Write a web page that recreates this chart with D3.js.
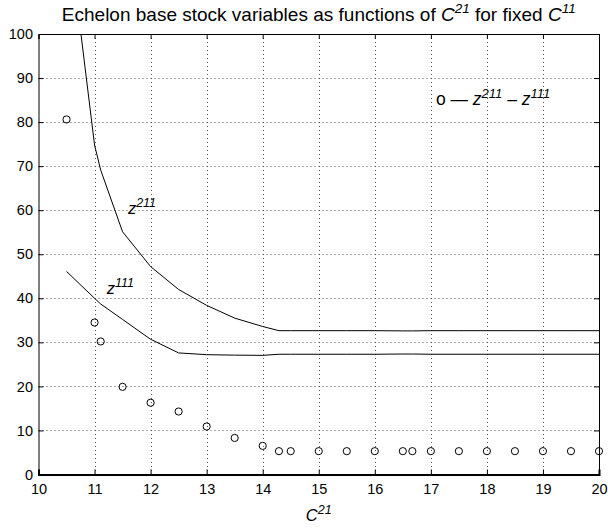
<!DOCTYPE html>
<html><head><meta charset="utf-8">
<script src="https://cdn.jsdelivr.net/npm/d3@7"></script>
<style>
body{margin:0;background:#fff;}
svg{display:block;font-family:"Liberation Sans",Arial,Helvetica,sans-serif;}
</style></head>
<body><svg id="c" width="608" height="529"></svg>
<script>
// ---- data ----
const c21 = [10.5, 11, 11.11, 11.5, 12, 12.5, 13, 13.5, 14, 14.29, 14.5, 15, 15.5, 16, 16.5, 16.67, 17, 17.5, 18, 18.5, 19, 19.5, 20];
const z211 = [126.7, 74.8, 69.1, 55.1, 47.2, 42.0, 38.4, 35.5, 33.6, 32.65, 32.65, 32.65, 32.65, 32.65, 32.6, 32.6, 32.65, 32.65, 32.65, 32.65, 32.65, 32.65, 32.65];
const z111 = [46.1, 40.0, 38.7, 35.2, 30.7, 27.6, 27.2, 27.1, 27.05, 27.3, 27.3, 27.3, 27.3, 27.3, 27.35, 27.35, 27.3, 27.3, 27.3, 27.3, 27.3, 27.3, 27.3];
const diff = [80.6, 34.5, 30.2, 19.9, 16.3, 14.3, 10.9, 8.3, 6.5, 5.3, 5.3, 5.3, 5.3, 5.3, 5.3, 5.3, 5.3, 5.3, 5.3, 5.3, 5.3, 5.3, 5.3];
const xTicks = [10, 11, 12, 13, 14, 15, 16, 17, 18, 19, 20];
const yTicks = [0, 10, 20, 30, 40, 50, 60, 70, 80, 90, 100];

const L = 38.5, R = 599, T = 34, B = 474.5;
const svg = d3.select("#c");
const x = d3.scaleLinear().domain([10, 20]).range([L, R]);
const y = d3.scaleLinear().domain([0, 100]).range([B, T]);

// grid
const grid = svg.append("g").attr("stroke", "#555").attr("stroke-width", 1).attr("stroke-dasharray", "1,3");
grid.selectAll("line.gx").data(xTicks.slice(1, -1)).join("line")
  .attr("x1", d => Math.round(x(d)) + 0.5).attr("x2", d => Math.round(x(d)) + 0.5).attr("y1", T).attr("y2", B);
grid.selectAll("line.gy").data(yTicks.slice(1, -1)).join("line")
  .attr("y1", d => Math.round(y(d)) + 0.5).attr("y2", d => Math.round(y(d)) + 0.5).attr("x1", L).attr("x2", R);

// axes
const tk = 5;
const axB = svg.append("g").attr("transform", `translate(0,${B})`)
  .call(d3.axisBottom(x).tickValues(xTicks).tickSize(-tk).tickPadding(9).tickFormat(d3.format("d")));
const axT = svg.append("g").attr("transform", `translate(0,${T})`)
  .call(d3.axisTop(x).tickValues(xTicks).tickSize(-tk).tickFormat(""));
const axL = svg.append("g").attr("transform", `translate(${L},0)`)
  .call(d3.axisLeft(y).tickValues(yTicks).tickSize(-tk).tickPadding(5.5).tickFormat(d3.format("d")));
const axR = svg.append("g").attr("transform", `translate(${R},0)`)
  .call(d3.axisRight(y).tickValues(yTicks).tickSize(-tk).tickFormat(""));
[axB, axT, axL, axR].forEach(a => {
  a.select(".domain").attr("stroke", "#000");
  a.selectAll("line").attr("stroke", "#000");
  a.selectAll("text").attr("font-size", 14.5).attr("fill", "#000").attr("font-family", "Liberation Sans, Arial, sans-serif");
});
axB.select(".domain").attr("stroke-width", 2);

// clip
svg.append("clipPath").attr("id", "clip").append("rect").attr("x", L).attr("y", T).attr("width", R - L).attr("height", B - T);

const line = arr => d3.line().x((d, i) => x(c21[i])).y(d => y(d))(arr);
svg.append("path").attr("clip-path", "url(#clip)").attr("d", line(z211)).attr("fill", "none").attr("stroke", "#000").attr("stroke-width", 1);
svg.append("path").attr("clip-path", "url(#clip)").attr("d", line(z111)).attr("fill", "none").attr("stroke", "#000").attr("stroke-width", 1);

svg.append("g").selectAll("circle").data(diff).join("circle")
  .attr("cx", (d, i) => x(c21[i])).attr("cy", d => y(d)).attr("r", 3.6)
  .attr("fill", "none").attr("stroke", "#000").attr("stroke-width", 1);

// rich text helper
function rich(xp, yp, segs, size, anchor) {
  const t = svg.append("text").attr("x", xp).attr("y", yp).attr("font-size", size)
    .attr("text-anchor", anchor || "start").attr("fill", "#000");
  let up = false;
  segs.forEach(s => {
    const ts = t.append("tspan").text(s.t);
    if (s.i) ts.attr("font-style", "italic");
    if (s.s) { ts.attr("font-size", s.s); }
    if (s.s && !up) { ts.attr("dy", -size * 0.42); up = true; }
    else if (!s.s && up) { ts.attr("dy", size * 0.42); up = false; }
  });
  return t;
}

// title
rich((L + R) / 2, 20.5, [
  {t: "Echelon base stock variables as functions of "}, {t: "C", i: 1}, {t: "21", i: 1, s: 13.5},
  {t: " for fixed "}, {t: "C", i: 1}, {t: "11", i: 1, s: 13.5}], 19, "middle");

// x label
rich((L + R) / 2, 521, [{t: "C", i: 1}, {t: "21", i: 1, s: 12.5}], 16.5, "middle");

// curve labels
rich(x(11.595), y(59.1), [{t: "z", i: 1}, {t: "211", i: 1, s: 12.5}], 16.5);
rich(x(11.216), y(40.9), [{t: "z", i: 1}, {t: "111", i: 1, s: 12.5}], 16.5);

// legend text
rich(x(17.09), y(83.9), [{t: "o — "}, {t: "z", i: 1}, {t: "211", i: 1, s: 13}, {t: " – "}, {t: "z", i: 1}, {t: "111", i: 1, s: 13}], 17.5);
</script></body></html>
